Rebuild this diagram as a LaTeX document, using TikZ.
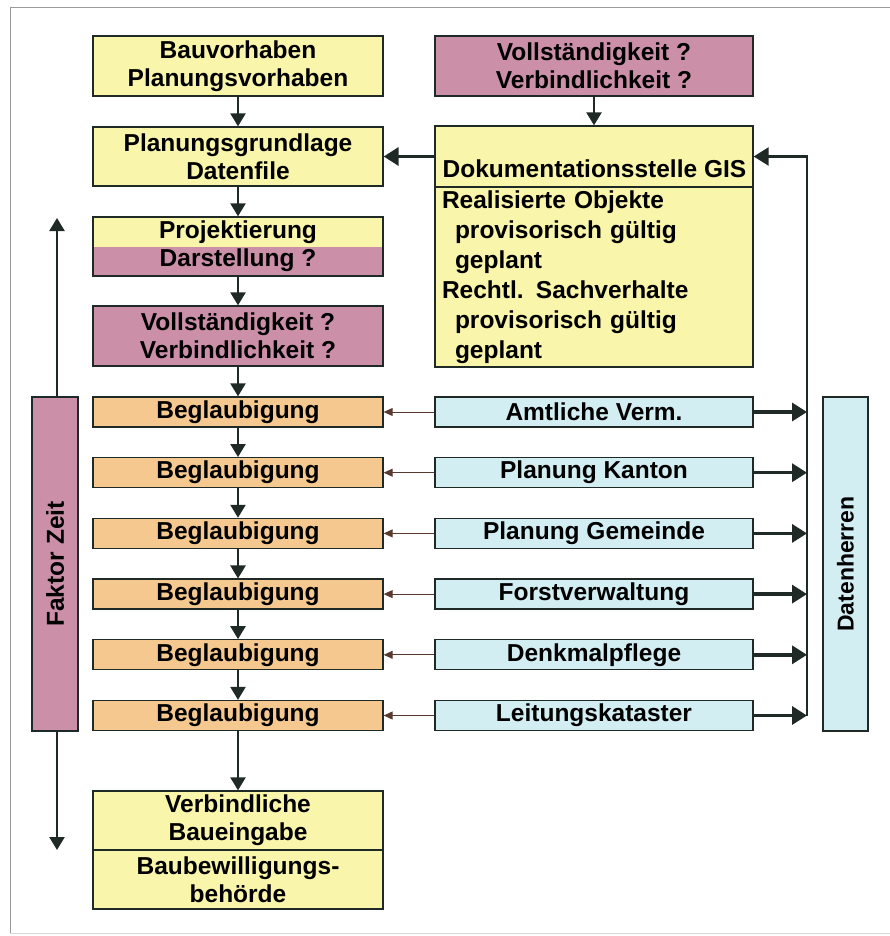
\documentclass[tikz,border=0pt]{standalone}
\usepackage{fontspec}
\setmainfont{Liberation Sans}
\usetikzlibrary{arrows.meta, positioning, calc}
\definecolor{boxyellow}{HTML}{F9F5AA}
\definecolor{boxpink}{HTML}{CB8FA7}
\definecolor{boxorange}{HTML}{F4C88E}
\definecolor{boxblue}{HTML}{D3EEF3}
\definecolor{boxline}{HTML}{1F2A26}
\definecolor{hintline}{HTML}{5A3A30}
\definecolor{framegray}{HTML}{9A9A9A}

\tikzset{
  base/.style={draw=boxline, line width=1.3pt, inner sep=0pt, align=center,
    font=\fontsize{24.5}{28}\selectfont\bfseries},
  leftbox/.style={base, minimum width=290pt},
  rightbox/.style={base, minimum width=318pt},
  ybox/.style={fill=boxyellow},
  pbox/.style={fill=boxpink},
  obox/.style={fill=boxorange},
  bbox/.style={fill=boxblue},
  flow/.style={boxline, line width=2.4pt, -{Triangle[width=15pt,length=13pt]}},
  feed/.style={boxline, line width=3.4pt, -{Triangle[width=18pt,length=15pt]}},
  hint/.style={hintline, line width=0.9pt, -{Triangle[width=8pt,length=9pt]}},
}

\begin{document}
\begin{tikzpicture}[x=1pt, y=-1pt]
  \useasboundingbox (0,0) rectangle (890,936);

  % Frame
  \draw[framegray, line width=0.8pt] (10,933) -- (10,7) -- (895,7);
  \draw[framegray!40, line width=0.6pt] (10,933) -- (895,933);

  % Left column (process)
  \node[leftbox, ybox, minimum height=60pt] (bau) at (238,66) {Bauvorhaben\\Planungsvorhaben};
  \node[leftbox, ybox, minimum height=59pt] (grund) at (238,156.5) {Planungsgrundlage\\Datenfile};
  \node[leftbox, ybox, minimum height=59pt,
    path picture={\fill[boxpink] (path picture bounding box.west) rectangle (path picture bounding box.south east);}]
    (proj) at (238,246.5) {Projektierung\\Darstellung ?};
  \node[leftbox, pbox, minimum height=60pt] (voll) at (238,336) {Vollständigkeit ?\\Verbindlichkeit ?};

  \draw[flow] (bau) -- (grund);
  \draw[flow] (grund) -- (proj);
  \draw[flow] (proj) -- (voll);

  % Right column (GIS)
  \node[rightbox, pbox, minimum height=60pt] (frage) at (594,66) {Vollständigkeit ?\\Verbindlichkeit ?};
  \node[rightbox, ybox, minimum height=61pt] (gishead) at (594,156.5) {};
  \node[base, draw=none, anchor=base west] (gistitle) at (442,178) {Dokumentationsstelle GIS};
  \node[rightbox, ybox, minimum height=180pt, text width=304pt, align=left,
    font=\fontsize{24.5}{30}\selectfont\bfseries] (gisbody) at (594,277)
    {Realisierte Objekte\\
     \hspace*{13pt}provisorisch gültig\\
     \hspace*{13pt}geplant\\
     Rechtl. Sachverhalte\\
     \hspace*{13pt}provisorisch gültig\\
     \hspace*{13pt}geplant};

  \draw[flow] (frage) -- (gishead);
  \draw[feed] (gishead) -- (grund);

  % Datenherren bus
  \coordinate (busend) at (807,715.5);

  % Rows: Beglaubigung <- Datenherren
  \foreach \i/\who in {1/Amtliche Verm., 2/Planung Kanton, 3/Planung Gemeinde,
                       4/Forstverwaltung, 5/Denkmalpflege, 6/Leitungskataster} {
    \pgfmathsetmacro{\yy}{412+60.7*(\i-1)}
    \node[leftbox, obox, minimum height=30pt] (begl\i) at (238,\yy) {Beglaubigung};
    \node[rightbox, bbox, minimum height=30pt] (herr\i) at (594,\yy) {\who};
    \draw[hint] (herr\i) -- (begl\i);
    \draw[feed] (herr\i.east) -- (herr\i.east -| busend);
  }

  \draw[boxline, line width=2.6pt, -{Triangle[width=18pt,length=15pt]}] (busend) |- (gishead.east);

  \draw[flow] (voll) -- (begl1);
  \foreach \i [evaluate=\i as \j using int(\i+1)] in {1,...,5} {
    \draw[flow] (begl\i) -- (begl\j);
  }

  % Result
  \node[leftbox, ybox, minimum height=59pt] (eingabe) at (238,820.5) {Verbindliche\\Baueingabe};
  \node[leftbox, ybox, minimum height=59pt] (behoerde) at (238,879.5) {Baubewilligungs-\\behörde};
  \draw[flow] (begl6) -- (eingabe);

  % Side bars
  \node[base, pbox, rotate=90, minimum width=334pt, minimum height=46pt] (zeit) at (55,564) {Faktor Zeit};
  \node[base, bbox, rotate=90, minimum width=334pt, minimum height=45pt,
    font=\fontsize{23}{26}\selectfont\bfseries] (daten) at (845.5,564) {Datenherren};
  \coordinate (zeitup) at (57,218);
  \coordinate (zeitdown) at (57,850);
  \draw[flow] (zeit.east -| zeitup) -- (zeitup);
  \draw[flow] (zeit.west -| zeitdown) -- (zeitdown);
\end{tikzpicture}
\end{document}
